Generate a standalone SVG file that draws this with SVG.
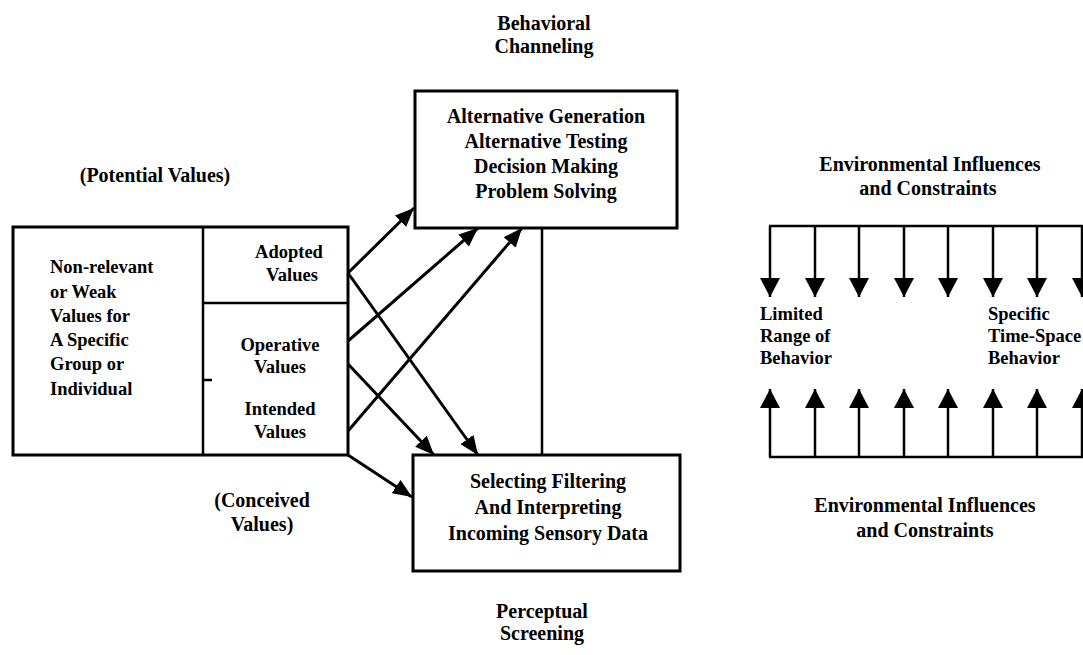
<svg xmlns="http://www.w3.org/2000/svg" width="1083" height="655" viewBox="0 0 1083 655">
<defs>
<style>
.t{font-family:"Liberation Serif","Times New Roman",serif;font-weight:bold;font-size:20px;fill:#000}
.s{font-size:18.5px}
.m{text-anchor:middle}
.box{fill:none;stroke:#000;stroke-width:3}
.ln{fill:none;stroke:#000;stroke-width:2.5}
.ar{fill:none;stroke:#000;stroke-width:3;marker-end:url(#ah)}
.ev{fill:none;stroke:#000;stroke-width:2.5;marker-end:url(#eh)}
</style>
<marker id="ah" markerUnits="userSpaceOnUse" markerWidth="20" markerHeight="16" refX="19" refY="8" orient="auto">
<path d="M0,0 L19,8 L0,16 z" fill="#000"/>
</marker>
<marker id="eh" markerUnits="userSpaceOnUse" markerWidth="20" markerHeight="20" refX="19" refY="10" orient="auto">
<path d="M0,0 L19,10 L0,20 z" fill="#000"/>
</marker>
</defs>
<rect width="1083" height="655" fill="#fff"/>

<g id="label-behavioral">
<text class="t m" x="544" y="30">Behavioral</text>
<text class="t m" x="544" y="53">Channeling</text>
</g>

<g id="behavior-box">
<rect class="box" x="415" y="91" width="262" height="137"/>
<text class="t m" x="546" y="123">Alternative Generation</text>
<text class="t m" x="546" y="148">Alternative Testing</text>
<text class="t m" x="546" y="173">Decision Making</text>
<text class="t m" x="546" y="198">Problem Solving</text>
</g>

<g id="label-potential">
<text class="t m" x="155" y="182">(Potential Values)</text>
</g>

<g id="values-box">
<rect class="box" x="13" y="227" width="335" height="228"/>
<line class="ln" x1="203" y1="227" x2="203" y2="455"/>
<line class="ln" x1="203" y1="303" x2="348" y2="303"/>
<line class="ln" x1="203" y1="380" x2="212" y2="380"/>
<text class="t s" x="50" y="273">Non-relevant</text>
<text class="t s" x="50" y="298">or Weak</text>
<text class="t s" x="50" y="322">Values for</text>
<text class="t s" x="50" y="346">A Specific</text>
<text class="t s" x="50" y="370">Group or</text>
<text class="t s" x="50" y="395">Individual</text>
<text class="t s m" x="289" y="258">Adopted</text>
<text class="t s m" x="292" y="281">Values</text>
<text class="t s m" x="280" y="351">Operative</text>
<text class="t s m" x="280" y="373">Values</text>
<text class="t s m" x="280" y="415">Intended</text>
<text class="t s m" x="280" y="438">Values</text>
</g>

<g id="label-conceived">
<text class="t m" x="262" y="507">(Conceived</text>
<text class="t m" x="262" y="531">Values)</text>
</g>

<g id="perception-box">
<rect class="box" x="413" y="455" width="267" height="116"/>
<text class="t m" x="548" y="488">Selecting Filtering</text>
<text class="t m" x="548" y="514">And Interpreting</text>
<text class="t m" x="548" y="540">Incoming Sensory Data</text>
</g>

<g id="label-perceptual">
<text class="t m" x="542" y="618">Perceptual</text>
<text class="t m" x="542" y="640">Screening</text>
</g>

<g id="connectors">
<line class="ln" x1="542" y1="228" x2="542" y2="455"/>
<line class="ar" x1="348" y1="273" x2="414" y2="208"/>
<line class="ar" x1="348" y1="341" x2="478" y2="228"/>
<line class="ar" x1="348" y1="431" x2="522" y2="228"/>
<line class="ar" x1="348" y1="273" x2="478" y2="455"/>
<line class="ar" x1="348" y1="364" x2="434" y2="455"/>
<line class="ar" x1="348" y1="455" x2="412" y2="497"/>
</g>

<g id="env-top-label">
<text class="t m" x="930" y="171">Environmental Influences</text>
<text class="t m" x="928" y="195">and Constraints</text>
</g>

<g id="env-top">
<line class="ln" x1="769" y1="226" x2="1083" y2="226"/>
<line class="ev" x1="770" y1="226" x2="770" y2="297"/>
<line class="ev" x1="815" y1="226" x2="815" y2="297"/>
<line class="ev" x1="859" y1="226" x2="859" y2="297"/>
<line class="ev" x1="904" y1="226" x2="904" y2="297"/>
<line class="ev" x1="948" y1="226" x2="948" y2="297"/>
<line class="ev" x1="993" y1="226" x2="993" y2="297"/>
<line class="ev" x1="1037" y1="226" x2="1037" y2="297"/>
<line class="ev" x1="1082" y1="226" x2="1082" y2="297"/>
</g>

<g id="behavior-labels">
<text class="t s" x="760" y="320">Limited</text>
<text class="t s" x="760" y="342">Range of</text>
<text class="t s" x="760" y="364">Behavior</text>
<text class="t s" x="988" y="320">Specific</text>
<text class="t s" x="988" y="342">Time-Space</text>
<text class="t s" x="988" y="364">Behavior</text>
</g>

<g id="env-bottom">
<line class="ln" x1="769" y1="457" x2="1083" y2="457"/>
<line class="ev" x1="770" y1="457" x2="770" y2="389"/>
<line class="ev" x1="815" y1="457" x2="815" y2="389"/>
<line class="ev" x1="859" y1="457" x2="859" y2="389"/>
<line class="ev" x1="904" y1="457" x2="904" y2="389"/>
<line class="ev" x1="948" y1="457" x2="948" y2="389"/>
<line class="ev" x1="993" y1="457" x2="993" y2="389"/>
<line class="ev" x1="1037" y1="457" x2="1037" y2="389"/>
<line class="ev" x1="1082" y1="457" x2="1082" y2="389"/>
</g>

<g id="env-bottom-label">
<text class="t m" x="925" y="512">Environmental Influences</text>
<text class="t m" x="925" y="537">and Constraints</text>
</g>
</svg>
